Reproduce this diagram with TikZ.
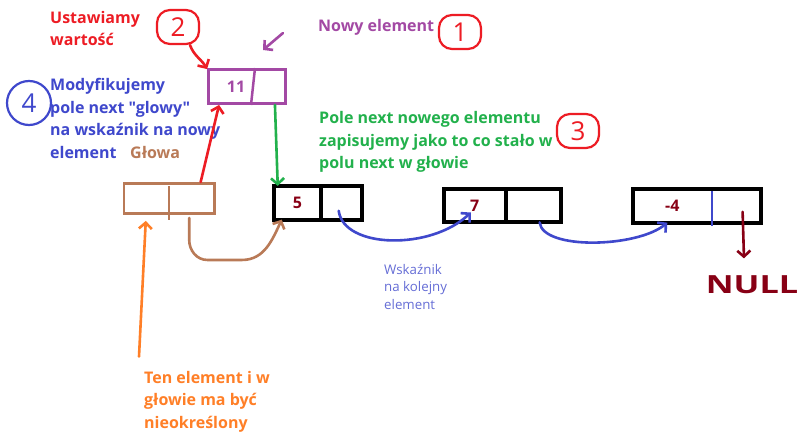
\documentclass[tikz,border=0pt]{standalone}
\usepackage{fontspec}
\setmainfont{Open Sans}[Ligatures=TeXOff]
\usetikzlibrary{arrows.meta,positioning}
\definecolor{setred}{HTML}{ED1C24}
\definecolor{newpurple}{HTML}{A349A4}
\definecolor{modblue}{HTML}{3F48CC}
\definecolor{fieldgreen}{HTML}{22B14C}
\definecolor{headbrown}{HTML}{B97A57}
\definecolor{undefor}{HTML}{FF7F27}
\definecolor{nullred}{HTML}{880015}
\newcommand{\notefont}{\fontsize{16}{22.5}\selectfont\bfseries}
\newcommand{\smallnotefont}{\fontsize{13.3}{17.5}\selectfont}
\newcommand{\digitfont}{\fontsize{26}{26}\selectfont}

\tikzset{
  note/.style={anchor=base west, align=left, inner sep=0pt, font=\notefont},
  cellbox/.style={draw, line width=4pt, minimum height=33.7pt, inner sep=0pt, outer sep=0pt, font=\notefont, text=nullred},
  hand/.style={line width=2.6pt, line cap=round, line join=round, -{Straight Barb[length=6pt,width=13pt]}},
  stepmark/.style={draw, line width=2.2pt, rounded corners=13pt, minimum width=42pt, minimum height=34pt, font=\digitfont, inner sep=0pt},
}

\begin{document}
\begin{tikzpicture}[x=1pt,y=-1pt]
\useasboundingbox[fill=white] (0,0) rectangle (800,436);
% numbered steps
\node[stepmark, setred] (mark1) at (460,32) {1};
\node[stepmark, setred] (mark2) at (178,27) {2};
\node[stepmark, setred] (mark3) at (578,131) {3};
\node[stepmark, modblue, circle, minimum size=44pt] (mark4) at (29,103) {4};
% notes (base = last line)
\node[note, text=setred] (setnote) at (50,46) {Ustawiamy\\wartość};
\node[note, text=newpurple] (newnote) at (318,32) {Nowy element};
\node[note, text=modblue] (modnote) at (50,158) {Modyfikujemy\\pole next "glowy"\\na wskaźnik na nowy\\element};
\node[note, text=headbrown] (headnote) at (130,158) {Głowa};
\node[note, text=fieldgreen] (fieldnote) at (319,168.5) {Pole next nowego elementu\\zapisujemy jako to co stało w\\polu next w głowie};
\node[note, font=\smallnotefont, text=modblue!80!white] (ptrnote) at (384,309) {Wskaźnik\\na kolejny\\element};
\node[note, text=undefor] (undefnote) at (144,428) {Ten element i w\\głowie ma być\\nieokreślony};
% new element
\node[draw=newpurple, line width=2.5pt, minimum width=77.4pt, minimum height=34.4pt, inner sep=0pt] (newel) at (247,86.5) {};
\node[font=\notefont, text=newpurple] (newval) at (236,87) {11};
\draw[newpurple, line width=2.5pt] ([xshift=8pt]newel.north) -- ([xshift=4pt]newel.south);
% head
\node[draw=headbrown, line width=2.5pt, minimum width=90.4pt, minimum height=30.4pt, inner sep=0pt] (head) at (169.2,198.5) {};
\draw[headbrown, line width=2.5pt] ([yshift=-4pt]head.north) -- ([yshift=-5pt]head.south);
% list
\node[cellbox, minimum width=47.3pt] (val5) at (297.4,202.8) {5};
\node[cellbox, minimum width=41.3pt, right=0pt of val5] (next5) {};
\node[cellbox, minimum width=62.3pt] (val7) at (474.8,205.5) {7};
\node[cellbox, minimum width=55.3pt, right=0pt of val7] (next7) {};
\node[cellbox, draw=none, minimum width=79.3pt] (val4) at (672.3,205.8) {-4};
\node[cellbox, draw=none, minimum width=49.3pt, right=0pt of val4] (next4) {};
\draw[line width=4pt] (val4.north west) rectangle (next4.south east);
\draw[modblue, line width=2.5pt] ([yshift=-2pt]val4.north east) -- ([yshift=-3pt]val4.south east);
\node[font=\fontsize{25}{25}\selectfont\bfseries, text=nullred] (nullnode) at (752,285) {\scalebox{1.37}[1]{NULL}};
% arrows
\coordinate (tickstart) at (283,33);
\coordinate (tickend) at (263,50);
\draw[hand, newpurple] (tickstart) -- (tickend);
\draw[hand, setred] ([xshift=12pt]mark2.south) to[out=-70,in=120] ([yshift=-1pt]newel.north west);
\draw[hand, setred] ([xshift=-15pt]head.north east) -- ([xshift=12pt]newel.south west);
\draw[hand, fieldgreen] ([xshift=-12pt]newel.south east) -- ([xshift=4pt]val5.north west);
\draw[hand, headbrown] ([xshift=20pt,yshift=-3pt]head.south) -- ++(0pt,-22pt) to[out=-90,in=180] ++(18pt,-20pt) -- ++(35pt,0pt) to[out=0,in=-115] ([xshift=8pt]val5.south west);
\draw[hand, undefor] ([shift={(-5pt,14pt)}]undefnote.north west) -- ([shift={(23pt,-6pt)}]head.south west);
\draw[hand, modblue] ([shift={(-3pt,-8pt)}]next5.center) .. controls +(5pt,-38pt) and +(-40pt,-38pt) .. ([shift={(-4pt,-7pt)}]val7.center);
\draw[hand, modblue] ([xshift=6pt]next7.south) .. controls +(3pt,-28pt) and +(-30pt,-25pt) .. ([xshift=-5pt]val4.south);
\draw[hand, nullred] ([shift={(6pt,-6pt)}]next4.center) -- ([shift={(-8pt,14pt)}]nullnode.north);
\end{tikzpicture}
\end{document}
